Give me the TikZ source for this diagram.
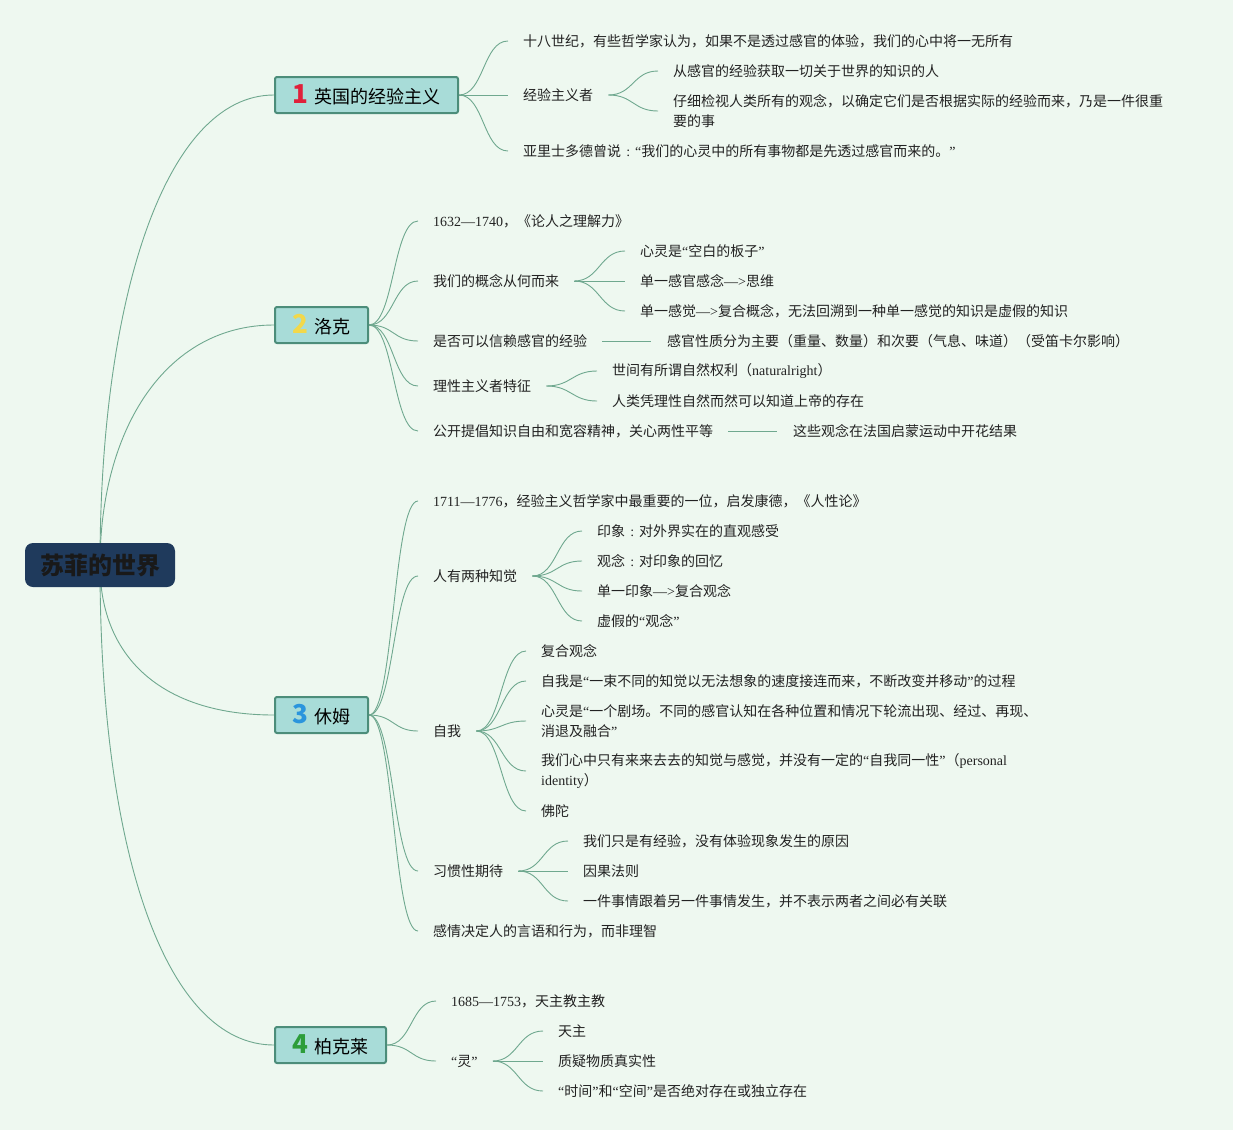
\documentclass[tikz,border=0pt]{standalone}
\usepackage{fontspec}
\setmainfont{Noto Sans CJK SC}
\newfontfamily\cjk{Noto Sans CJK SC}
\newfontfamily\latf{Liberation Serif}
\usetikzlibrary{backgrounds}
\definecolor{bg}{HTML}{EEF8F0}
\definecolor{lnc}{HTML}{6FA88F}
\definecolor{bfill}{HTML}{A8DCD8}
\definecolor{bbord}{HTML}{4C8D7A}
\definecolor{rootc}{HTML}{1F3A5C}
\definecolor{txt}{HTML}{222222}
\definecolor{nred}{HTML}{E0203A}
\definecolor{nyel}{HTML}{F2D84A}
\definecolor{nblu}{HTML}{2A95DD}
\definecolor{ngrn}{HTML}{2D9D3A}
\newcommand\lnum[1]{{\latf #1}}
\newcommand\myq[1]{{\latf “}#1{\latf ”}}
\newcommand\mycolon{\makebox[14pt]{\latf :}}
\newcommand\bnum[2]{{\fontsize{26}{26}\selectfont\bfseries\color{#1}#2}\hspace{6pt}}
\tikzset{
  leaf/.style={anchor=west, inner sep=0pt, text=txt, align=left, font=\cjk\fontsize{14}{20}\selectfont},
  branch/.style={draw=bbord, line width=2pt, fill=bfill, minimum height=36pt, inner sep=0pt, rounded corners=2pt, text=black, font=\cjk\fontsize{18}{18}\selectfont},
  cn/.style={draw=lnc, line width=0.9pt},
}
\newcommand\conn[2]{\draw[cn] (#1) .. controls +(25,0) and +(-25,0) .. (#2);}
\begin{document}
\begin{tikzpicture}[x=1pt,y=-1pt]
\useasboundingbox (0,0) rectangle (1233,1130);
% root
\node[fill=rootc, rounded corners=8pt, minimum width=150pt, minimum height=44pt, inner sep=0pt, text=black!90, font=\cjk\fontsize{24}{24}\selectfont\bfseries] (root) at (100,565) {苏菲的世界};
% branches
\node[branch, minimum width=183pt] (b1) at (366.5,95) {\bnum{nred}{1}英国的经验主义};
\node[branch, minimum width=93pt] (b2) at (321.5,325) {\bnum{nyel}{2}洛克};
\node[branch, minimum width=93pt] (b3) at (321.5,715) {\bnum{nblu}{3}休姆};
\node[branch, minimum width=111pt] (b4) at (330.5,1045) {\bnum{ngrn}{4}柏克莱};
% branch 1
\node[leaf] (c11) at (523,41) {十八世纪，有些哲学家认为，如果不是透过感官的体验，我们的心中将一无所有};
\node[leaf] (c12) at (523,95) {经验主义者};
\node[leaf] (c121) at (673,71) {从感官的经验获取一切关于世界的知识的人};
\node[leaf] (c122) at (673,111) {仔细检视人类所有的观念，以确定它们是否根据实际的经验而来，乃是一件很重\\要的事};
\node[leaf] (c13) at (523,151) {亚里士多德曾说\mycolon\myq{我们的心灵中的所有事物都是先透过感官而来的。}};
% branch 2
\node[leaf] (c21) at (433,221) {\lnum{1632—1740}，《论人之理解力》};
\node[leaf] (c22) at (433,281) {我们的概念从何而来};
\node[leaf] (c221) at (640,251) {心灵是\myq{空白的板子}};
\node[leaf] (c222) at (640,281) {单一感官感念\lnum{—>}思维};
\node[leaf] (c223) at (640,311) {单一感觉\lnum{—>}复合概念，无法回溯到一种单一感觉的知识是虚假的知识};
\node[leaf] (c23) at (433,341) {是否可以信赖感官的经验};
\node[leaf] (c231) at (667,341) {感官性质分为主要（重量、数量）和次要（气息、味道）（受笛卡尔影响）};
\node[leaf] (c24) at (433,386) {理性主义者特征};
\node[leaf] (c241) at (612,371) {世间有所谓自然权利（\lnum{naturalright}）};
\node[leaf] (c242) at (612,401) {人类凭理性自然而然可以知道上帝的存在};
\node[leaf] (c25) at (433,431) {公开提倡知识自由和宽容精神，关心两性平等};
\node[leaf] (c251) at (793,431) {这些观念在法国启蒙运动中开花结果};
% branch 3
\node[leaf] (c31) at (433,501) {\lnum{1711—1776}，经验主义哲学家中最重要的一位，启发康德，《人性论》};
\node[leaf] (c32) at (433,576) {人有两种知觉};
\node[leaf] (c321) at (597,531) {印象\mycolon 对外界实在的直观感受};
\node[leaf] (c322) at (597,561) {观念\mycolon 对印象的回忆};
\node[leaf] (c323) at (597,591) {单一印象\lnum{—>}复合观念};
\node[leaf] (c324) at (597,621) {虚假的\myq{观念}};
\node[leaf] (c33) at (433,731) {自我};
\node[leaf] (c331) at (541,651) {复合观念};
\node[leaf] (c332) at (541,681) {自我是\myq{一束不同的知觉以无法想象的速度接连而来，不断改变并移动}的过程};
\node[leaf] (c333) at (541,721) {心灵是{\latf “}一个剧场。不同的感官认知在各种位置和情况下轮流出现、经过、再现、\\消退及融合{\latf ”}};
\node[leaf] (c334) at (541,771) {我们心中只有来来去去的知觉与感觉，并没有一定的\myq{自我同一性}（\lnum{personal}\\\lnum{identity}）};
\node[leaf] (c335) at (541,811) {佛陀};
\node[leaf] (c34) at (433,871) {习惯性期待};
\node[leaf] (c341) at (583,841) {我们只是有经验，没有体验现象发生的原因};
\node[leaf] (c342) at (583,871) {因果法则};
\node[leaf] (c343) at (583,901) {一件事情跟着另一件事情发生，并不表示两者之间必有关联};
\node[leaf] (c35) at (433,931) {感情决定人的言语和行为，而非理智};
% branch 4
\node[leaf] (c41) at (451,1001) {\lnum{1685—1753}，天主教主教};
\node[leaf] (c42) at (451,1061) {\myq{灵}};
\node[leaf] (c421) at (558,1031) {天主};
\node[leaf] (c422) at (558,1061) {质疑物质真实性};
\node[leaf] (c423) at (558,1091) {\myq{时间}和\myq{空间}是否绝对存在或独立存在};
\begin{scope}[on background layer]
\fill[bg] (0,0) rectangle (1233,1130);
% root to branches
\draw[cn] (root.center) .. controls (100,300) and (165,95) .. (b1.west);
\draw[cn] (root.center) .. controls (100,430) and (165,325) .. (b2.west);
\draw[cn] (root.center) .. controls (100,660) and (165,715) .. (b3.west);
\draw[cn] (root.center) .. controls (100,850) and (165,1045) .. (b4.west);
% branch 1
\foreach \c in {c11,c12,c13} {\conn{b1.east}{[xshift=-15pt]\c.west}}
\foreach \c in {c121,c122} {\conn{[xshift=15pt]c12.east}{[xshift=-15pt]\c.west}}
% branch 2
\foreach \c in {c21,c22,c23,c24,c25} {\conn{b2.east}{[xshift=-15pt]\c.west}}
\foreach \c in {c221,c222,c223} {\conn{[xshift=15pt]c22.east}{[xshift=-15pt]\c.west}}
\draw[cn] ([xshift=15pt]c23.east) -- ([xshift=-16pt]c231.west);
\foreach \c in {c241,c242} {\conn{[xshift=15pt]c24.east}{[xshift=-15pt]\c.west}}
\draw[cn] ([xshift=15pt]c25.east) -- ([xshift=-16pt]c251.west);
% branch 3
\foreach \c in {c31,c32,c33,c34,c35} {\conn{b3.east}{[xshift=-15pt]\c.west}}
\foreach \c in {c321,c322,c323,c324} {\conn{[xshift=15pt]c32.east}{[xshift=-15pt]\c.west}}
\foreach \c in {c331,c332,c333,c334,c335} {\conn{[xshift=15pt]c33.east}{[xshift=-15pt]\c.west}}
\foreach \c in {c341,c342,c343} {\conn{[xshift=15pt]c34.east}{[xshift=-15pt]\c.west}}
% branch 4
\foreach \c in {c41,c42} {\conn{b4.east}{[xshift=-15pt]\c.west}}
\foreach \c in {c421,c422,c423} {\conn{[xshift=15pt]c42.east}{[xshift=-15pt]\c.west}}
\end{scope}
\end{tikzpicture}
\end{document}
